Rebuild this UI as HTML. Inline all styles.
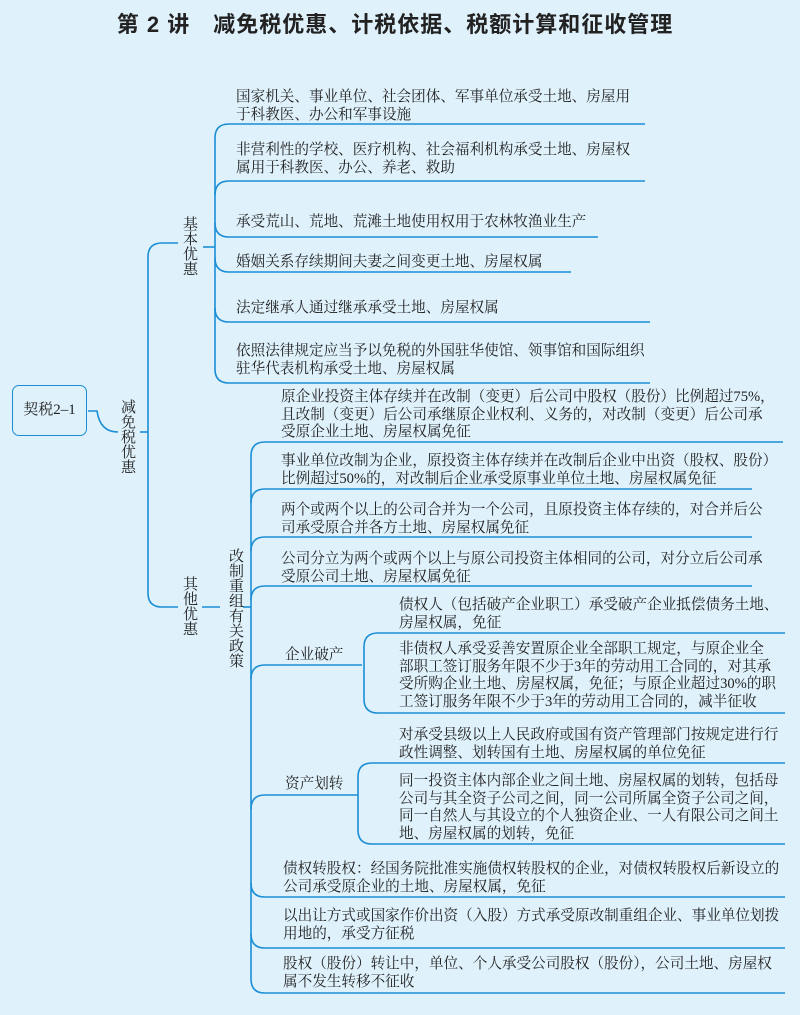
<!DOCTYPE html>
<html><head><meta charset="utf-8">
<style>
html,body{margin:0;padding:0;}
body{width:800px;height:1015px;background:#dff1fb;position:relative;overflow:hidden;font-family:"Liberation Serif","Noto Serif CJK SC",serif;color:#222;}
.t{position:absolute;font-size:14.6px;line-height:17.6px;white-space:nowrap;}
.v{position:absolute;font-size:15px;line-height:15px;width:15px;text-align:center;}
.title{position:absolute;top:7px;left:0;width:790px;text-align:center;font-family:"Liberation Sans","Noto Sans CJK SC",sans-serif;font-weight:bold;font-size:22px;letter-spacing:1px;}
.box{position:absolute;left:12px;top:385px;width:73px;height:49px;border:1.6px solid #1b8ed6;border-radius:7px;font-size:15px;line-height:49px;text-align:center;}
svg{position:absolute;left:0;top:0;}
</style></head><body>
<div class="title">第 2 讲　减免税优惠、计税依据、税额计算和征收管理</div>
<svg width="800" height="1015" fill="none" stroke="#1b8ed6" stroke-width="1.6">
<path d="M88,411 L97,411 Q100,432 118,432"/>
<path d="M140,432 L148,432"/>
<path d="M148,257 L148,593"/>
<path d="M148,257 Q148,243 162,243 L178,243"/>
<path d="M148,593 Q148,607 162,607 L178,607"/>
<path d="M203,247 L215,247"/>
<path d="M202,607 L220,607"/>
<path d="M243,607 L251,607"/>
<path d="M215,138 L215,369"/>
<path d="M215,138 Q215,124 229,124 L645,124"/>
<path d="M215,195 Q215,181 229,181 L645,181"/>
<path d="M215,223 Q215,237 229,237 L598,237"/>
<path d="M215,258 Q215,272 229,272 L571,272"/>
<path d="M215,308 Q215,322 229,322 L650,322"/>
<path d="M215,369 Q215,383 229,383 L650,383"/>
<path d="M251,456 L251,979"/>
<path d="M251,456 Q251,442 265,442 L783,442"/>
<path d="M251,503 Q251,489 265,489 L752,489"/>
<path d="M251,551 Q251,537 265,537 L752,537"/>
<path d="M251,600 Q251,586 265,586 L752,586"/>
<path d="M251,679 Q251,665 265,665 L362,665"/>
<path d="M251,809 Q251,795 265,795 L358,795"/>
<path d="M251,883 Q251,897 265,897 L785,897"/>
<path d="M251,934 Q251,948 265,948 L785,948"/>
<path d="M251,979 Q251,993 265,993 L785,993"/>
<path d="M364,647 L364,699"/>
<path d="M364,647 Q364,633 378,633 L785,633"/>
<path d="M364,699 Q364,713 378,713 L785,713"/>
<path d="M358,777 L358,830"/>
<path d="M358,777 Q358,763 372,763 L785,763"/>
<path d="M358,830 Q358,844 372,844 L785,844"/>
</svg>

<div class="box">契税2–1</div>
<div class="v" style="left:121px;top:401px;">减免税优惠</div>
<div class="v" style="left:183px;top:218px;">基本优惠</div>
<div class="v" style="left:183px;top:578px;">其他优惠</div>
<div class="v" style="left:229px;top:550px;">改制重组有关政策</div>

<div class="t" style="left:236px;top:89px;">国家机关、事业单位、社会团体、军事单位承受土地、房屋用<br>于科教医、办公和军事设施</div>
<div class="t" style="left:236px;top:142px;">非营利性的学校、医疗机构、社会福利机构承受土地、房屋权<br>属用于科教医、办公、养老、救助</div>
<div class="t" style="left:236px;top:214px;">承受荒山、荒地、荒滩土地使用权用于农林牧渔业生产</div>
<div class="t" style="left:236px;top:254px;">婚姻关系存续期间夫妻之间变更土地、房屋权属</div>
<div class="t" style="left:236px;top:300px;">法定继承人通过继承承受土地、房屋权属</div>
<div class="t" style="left:236px;top:343px;">依照法律规定应当予以免税的外国驻华使馆、领事馆和国际组织<br>驻华代表机构承受土地、房屋权属</div>

<div class="t" style="left:281px;top:389px;">原企业投资主体存续并在改制（变更）后公司中股权（股份）比例超过75%，<br>且改制（变更）后公司承继原企业权利、义务的，对改制（变更）后公司承<br>受原企业土地、房屋权属免征</div>
<div class="t" style="left:281px;top:453px;">事业单位改制为企业，原投资主体存续并在改制后企业中出资（股权、股份）<br>比例超过50%的，对改制后企业承受原事业单位土地、房屋权属免征</div>
<div class="t" style="left:281px;top:502px;">两个或两个以上的公司合并为一个公司，且原投资主体存续的，对合并后公<br>司承受原合并各方土地、房屋权属免征</div>
<div class="t" style="left:281px;top:551px;">公司分立为两个或两个以上与原公司投资主体相同的公司，对分立后公司承<br>受原公司土地、房屋权属免征</div>

<div class="t" style="left:285px;top:647px;">企业破产</div>
<div class="t" style="left:399px;top:597px;">债权人（包括破产企业职工）承受破产企业抵偿债务土地、<br>房屋权属，免征</div>
<div class="t" style="left:399px;top:641px;">非债权人承受妥善安置原企业全部职工规定，与原企业全<br>部职工签订服务年限不少于3年的劳动用工合同的，对其承<br>受所购企业土地、房屋权属，免征；与原企业超过30%的职<br>工签订服务年限不少于3年的劳动用工合同的，减半征收</div>

<div class="t" style="left:285px;top:776px;">资产划转</div>
<div class="t" style="left:399px;top:727px;">对承受县级以上人民政府或国有资产管理部门按规定进行行<br>政性调整、划转国有土地、房屋权属的单位免征</div>
<div class="t" style="left:399px;top:773px;">同一投资主体内部企业之间土地、房屋权属的划转，包括母<br>公司与其全资子公司之间，同一公司所属全资子公司之间，<br>同一自然人与其设立的个人独资企业、一人有限公司之间土<br>地、房屋权属的划转，免征</div>

<div class="t" style="left:283px;top:861px;">债权转股权：经国务院批准实施债权转股权的企业，对债权转股权后新设立的<br>公司承受原企业的土地、房屋权属，免征</div>
<div class="t" style="left:283px;top:908px;">以出让方式或国家作价出资（入股）方式承受原改制重组企业、事业单位划拨<br>用地的，承受方征税</div>
<div class="t" style="left:283px;top:956px;">股权（股份）转让中，单位、个人承受公司股权（股份），公司土地、房屋权<br>属不发生转移不征收</div>
</body></html>
